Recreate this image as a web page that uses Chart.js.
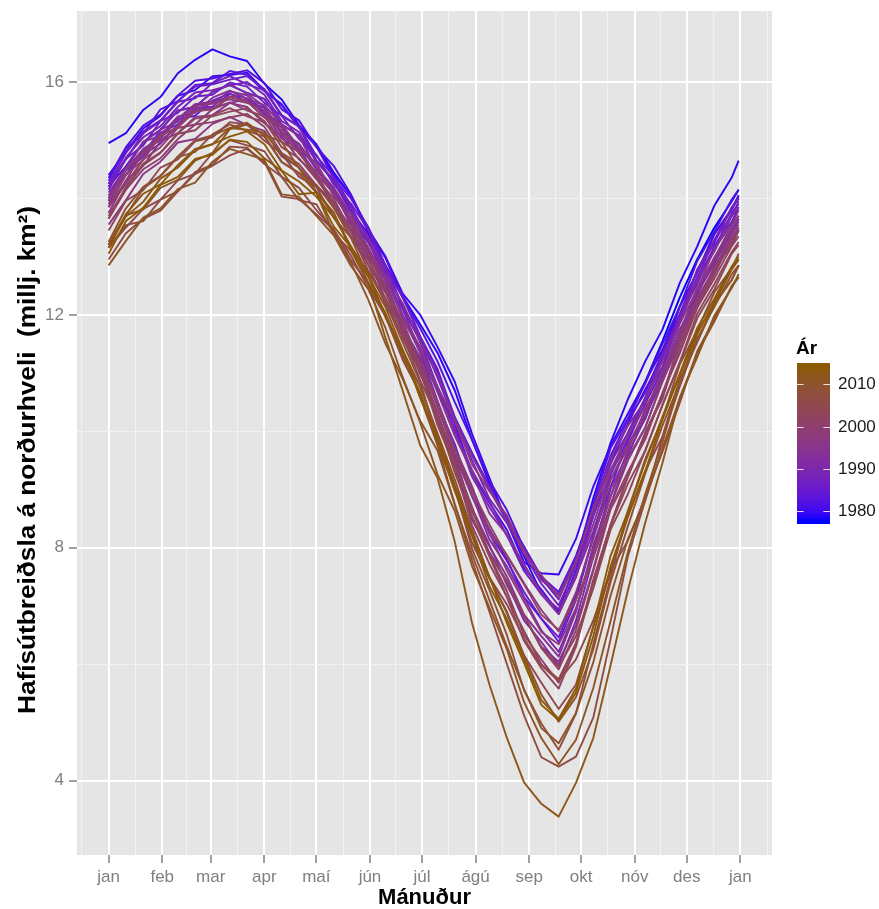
<!DOCTYPE html>
<html>
<head>
<meta charset="utf-8">
<script src="https://cdn.jsdelivr.net/npm/chart.js@4.4.1/dist/chart.umd.min.js"></script>
<style>
html, body { margin: 0; padding: 0; background: #ffffff; }
canvas { display: block; }
</style>
</head>
<body>
<canvas id="chart" width="879" height="909"></canvas>
<script>
// Day of year (0 = 1 January) of each sampled extent value
const sampleDays = [0, 10, 20, 30, 40, 50, 60, 70, 80, 90, 100, 110, 120, 130, 140, 150, 160, 170, 180,
  190, 200, 210, 220, 230, 240, 250, 260, 270, 280, 290, 300, 310, 320, 330, 340, 350, 360, 364];

// Month axis
const monthStartDays = [0, 31, 59, 90, 120, 151, 181, 212, 243, 273, 304, 334, 365];
const monthLabels = ['jan', 'feb', 'mar', 'apr', 'maí', 'jún', 'júl', 'ágú', 'sep', 'okt', 'nóv', 'des', 'jan'];
const xTitle = 'Mánuður';

// Extent axis
const yMajorTicks = [4, 8, 12, 16];
const yTitle = 'Hafísútbreiðsla á norðurhveli  (millj. km²)';

// Colour legend
const legendTitle = 'Ár';
const legendBreaks = [1980, 1990, 2000, 2010];
const yearLimits = [1978, 2014];

// Northern hemisphere sea ice extent, million km2, one array per year
const ext1978 = [null, null, null, null, null, null, null, null, null, null, null, null, null, null, null, null, null, null, null,
  null, null, null, null, null, null, null, null, null, null, null, 10.2, 10.85, 11.55, 12.3, 12.95, 13.5, 13.95, 14.15];
const ext1979 = [14.95, 15.12, 15.52, 15.74, 16.15, 16.38, 16.56, 16.44, 16.36, 15.97, 15.7, 15.26, 14.93, 14.45, 14.05, 13.42, 12.98, 12.31, 11.84,
  11.35, 10.7, 9.85, 9.1, 8.45, 7.85, 7.22, 6.93, 7.75, 8.85, 9.8, 10.55, 11.2, 11.75, 12.55, 13.17, 13.88, 14.36, 14.65];
const ext1980 = [14.4, 14.8, 15.2, 15.42, 15.76, 15.86, 16.1, 16.12, 16.16, 15.86, 15.6, 15.22, 14.9, 14.41, 14.05, 13.47, 13.0, 12.36, 12.0,
  11.45, 10.85, 9.95, 9.2, 8.45, 7.75, 7.56, 7.54, 8.15, 9.05, 9.75, 10.3, 10.85, 11.4, 12.14, 12.72, 13.39, 13.82, 14.05];
const ext1981 = [14.2, 14.55, 14.97, 15.18, 15.51, 15.57, 15.83, 15.95, 15.81, 15.71, 15.27, 15.08, 14.65, 14.32, 13.79, 13.39, 12.84, 12.12, 11.55,
  10.76, 10.13, 9.28, 8.77, 8.31, 7.65, 7.28, 6.88, 7.6, 8.64, 9.44, 10.13, 10.72, 11.26, 12.15, 12.73, 13.39, 13.8, 14.05];
const ext1982 = [14.35, 14.88, 15.25, 15.44, 15.77, 16.02, 16.06, 16.14, 16.2, 15.98, 15.53, 15.34, 14.88, 14.56, 14.07, 13.46, 12.98, 12.29, 11.77,
  11.2, 10.5, 9.85, 9.15, 8.65, 7.99, 7.48, 7.11, 7.83, 8.75, 9.71, 10.22, 10.82, 11.5, 12.14, 12.92, 13.43, 13.98, 14.15];
const ext1983 = [14.3, 14.86, 15.11, 15.53, 15.67, 15.95, 15.98, 16.19, 16.12, 15.84, 15.62, 15.22, 14.9, 14.35, 14.0, 13.51, 12.85, 12.34, 11.63,
  11.07, 10.24, 9.63, 9.05, 8.51, 8.02, 7.5, 7.24, 7.86, 8.68, 9.58, 10.2, 10.66, 11.36, 12.02, 12.74, 13.24, 13.85, 14.0];
const ext1984 = [14.05, 14.4, 14.82, 15.03, 15.36, 15.42, 15.68, 15.8, 15.66, 15.56, 15.12, 14.93, 14.5, 14.17, 13.64, 13.24, 12.69, 11.97, 11.35,
  10.46, 9.78, 8.88, 8.32, 7.81, 7.15, 6.78, 6.38, 7.1, 8.19, 9.04, 9.83, 10.47, 11.06, 11.95, 12.53, 13.19, 13.6, 13.85];
const ext1985 = [14.25, 14.78, 15.15, 15.34, 15.67, 15.92, 15.96, 16.04, 16.1, 15.88, 15.43, 15.24, 14.73, 14.38, 13.88, 13.26, 12.73, 11.99, 11.37,
  10.52, 9.72, 9.0, 8.24, 7.78, 7.24, 6.78, 6.46, 7.18, 8.2, 9.26, 9.87, 10.57, 11.3, 11.99, 12.77, 13.28, 13.83, 14.0];
const ext1986 = [14.15, 14.68, 14.91, 15.33, 15.47, 15.75, 15.78, 15.99, 15.92, 15.64, 15.42, 15.02, 14.75, 14.24, 13.91, 13.46, 12.8, 12.29, 11.63,
  11.02, 10.24, 9.58, 9.05, 8.46, 7.97, 7.45, 7.19, 7.81, 8.63, 9.53, 10.1, 10.51, 11.26, 11.92, 12.64, 13.14, 13.75, 13.9];
const ext1987 = [14.25, 14.67, 15.12, 15.33, 15.66, 15.72, 15.98, 16.1, 15.96, 15.86, 15.42, 15.23, 14.65, 14.29, 13.76, 13.34, 12.82, 12.12, 11.55,
  10.7, 10.05, 9.22, 8.7, 8.22, 7.6, 7.2, 6.86, 7.49, 8.54, 9.29, 9.98, 10.57, 11.11, 12.0, 12.63, 13.29, 13.7, 13.95];
const ext1988 = [14.2, 14.7, 15.05, 15.24, 15.57, 15.82, 15.86, 15.94, 16.0, 15.78, 15.33, 15.14, 14.63, 14.31, 13.85, 13.26, 12.8, 12.14, 11.62,
  10.92, 10.17, 9.5, 8.84, 8.43, 7.89, 7.38, 7.01, 7.68, 8.55, 9.46, 9.97, 10.57, 11.3, 11.94, 12.77, 13.28, 13.83, 14.0];
const ext1989 = [13.95, 14.48, 14.71, 15.13, 15.27, 15.55, 15.58, 15.79, 15.72, 15.44, 15.22, 14.82, 14.6, 14.07, 13.73, 13.26, 12.6, 12.09, 11.38,
  10.77, 9.99, 9.33, 8.8, 8.21, 7.72, 7.2, 6.94, 7.51, 8.28, 9.18, 9.75, 10.21, 11.01, 11.67, 12.44, 12.94, 13.55, 13.7];
const ext1990 = [14.1, 14.52, 14.97, 15.18, 15.51, 15.57, 15.83, 15.95, 15.81, 15.71, 15.27, 15.08, 14.5, 14.12, 13.54, 13.09, 12.49, 11.72, 11.05,
  10.16, 9.43, 8.48, 7.92, 7.41, 6.75, 6.38, 5.98, 6.75, 7.84, 8.74, 9.58, 10.27, 10.86, 11.75, 12.33, 12.99, 13.4, 13.65];
const ext1991 = [13.9, 14.4, 14.75, 14.94, 15.27, 15.52, 15.56, 15.64, 15.7, 15.48, 15.03, 14.84, 14.43, 14.09, 13.62, 13.01, 12.5, 11.79, 11.22,
  10.42, 9.62, 8.9, 8.14, 7.68, 7.14, 6.58, 6.21, 6.93, 7.95, 9.01, 9.62, 10.22, 10.95, 11.59, 12.37, 12.88, 13.43, 13.6];
const ext1992 = [14.0, 14.53, 14.76, 15.18, 15.32, 15.6, 15.63, 15.84, 15.77, 15.49, 15.27, 14.87, 14.6, 14.09, 13.76, 13.31, 12.67, 12.19, 11.53,
  10.97, 10.19, 9.58, 9.0, 8.46, 7.97, 7.45, 7.19, 7.76, 8.63, 9.53, 10.1, 10.51, 11.21, 11.87, 12.59, 13.09, 13.7, 13.85];
const ext1993 = [14.05, 14.5, 14.97, 15.08, 15.41, 15.47, 15.73, 15.85, 15.71, 15.6, 15.27, 15.08, 14.5, 14.14, 13.57, 13.14, 12.57, 11.82, 11.15,
  10.26, 9.58, 8.63, 8.02, 7.51, 6.85, 6.48, 6.13, 6.9, 8.04, 8.89, 9.68, 10.37, 10.96, 11.85, 12.43, 13.14, 13.55, 13.8];
const ext1994 = [14.0, 14.5, 14.85, 15.04, 15.37, 15.62, 15.66, 15.74, 15.8, 15.58, 15.13, 14.94, 14.53, 14.19, 13.72, 13.11, 12.63, 11.94, 11.37,
  10.67, 9.92, 9.3, 8.59, 8.23, 7.69, 7.23, 6.86, 7.53, 8.4, 9.31, 9.77, 10.32, 11.0, 11.64, 12.42, 12.93, 13.48, 13.65];
const ext1995 = [13.75, 14.31, 14.56, 14.98, 15.12, 15.4, 15.43, 15.64, 15.57, 15.29, 15.07, 14.67, 14.4, 13.84, 13.46, 12.96, 12.27, 11.74, 10.98,
  10.32, 9.44, 8.68, 8.05, 7.36, 6.82, 6.3, 6.04, 6.66, 7.63, 8.73, 9.5, 10.06, 10.86, 11.52, 12.24, 12.74, 13.35, 13.5];
const ext1996 = [13.55, 13.97, 14.42, 14.63, 14.96, 15.02, 15.28, 15.4, 15.26, 15.16, 14.72, 14.53, 14.2, 13.94, 13.47, 13.14, 12.64, 11.97, 11.45,
  10.76, 10.18, 9.43, 8.97, 8.56, 7.9, 7.53, 7.13, 7.75, 8.69, 9.34, 9.93, 10.42, 10.86, 11.65, 12.18, 12.84, 13.25, 13.5];
const ext1997 = [13.85, 14.3, 14.82, 15.0, 15.22, 15.58, 15.63, 15.7, 15.64, 15.52, 15.1, 14.8, 14.43, 14.09, 13.62, 13.01, 12.5, 11.79, 11.27,
  10.52, 9.72, 9.05, 8.29, 7.88, 7.39, 6.93, 6.56, 7.23, 8.15, 9.16, 9.72, 10.32, 11.05, 11.69, 12.47, 12.98, 13.53, 13.7];
const ext1998 = [13.95, 14.51, 14.76, 15.08, 15.22, 15.5, 15.53, 15.74, 15.67, 15.39, 15.27, 14.87, 14.6, 14.04, 13.66, 13.16, 12.45, 11.89, 11.13,
  10.47, 9.59, 8.88, 8.25, 7.61, 7.07, 6.55, 6.34, 6.96, 7.88, 8.88, 9.55, 10.06, 10.86, 11.57, 12.29, 12.79, 13.4, 13.55];
const ext1999 = [13.85, 14.25, 14.67, 14.88, 15.21, 15.27, 15.53, 15.65, 15.51, 15.41, 14.97, 14.8, 14.35, 14.0, 13.44, 13.04, 12.49, 11.77, 11.15,
  10.26, 9.53, 8.53, 7.87, 7.26, 6.5, 6.08, 5.68, 6.35, 7.44, 8.39, 9.23, 9.97, 10.61, 11.55, 12.13, 12.79, 13.2, 13.45];
const ext2000 = [13.65, 14.15, 14.5, 14.69, 15.02, 15.27, 15.31, 15.39, 15.45, 15.23, 14.78, 14.59, 14.23, 13.91, 13.45, 12.86, 12.38, 11.69, 11.12,
  10.32, 9.47, 8.7, 7.89, 7.43, 6.84, 6.28, 5.91, 6.58, 7.6, 8.66, 9.22, 9.92, 10.65, 11.34, 12.12, 12.63, 13.18, 13.35];
const ext2001 = [13.85, 14.41, 14.66, 15.08, 15.22, 15.5, 15.53, 15.74, 15.67, 15.39, 15.17, 14.77, 14.45, 13.89, 13.53, 13.06, 12.4, 11.89, 11.13,
  10.47, 9.64, 8.98, 8.4, 7.86, 7.37, 6.85, 6.59, 7.11, 7.83, 8.68, 9.3, 9.86, 10.66, 11.42, 12.14, 12.69, 13.3, 13.45];
const ext2002 = [13.7, 14.18, 14.57, 14.78, 15.11, 15.17, 15.43, 15.55, 15.41, 15.31, 14.97, 14.8, 14.35, 13.92, 13.34, 12.94, 12.39, 11.67, 11.05,
  10.11, 9.38, 8.38, 7.72, 7.16, 6.4, 5.93, 5.58, 6.3, 7.44, 8.39, 9.23, 9.97, 10.56, 11.5, 12.13, 12.79, 13.2, 13.45];
const ext2003 = [13.65, 14.2, 14.6, 14.79, 15.12, 15.37, 15.41, 15.49, 15.55, 15.33, 14.88, 14.69, 14.33, 13.94, 13.42, 12.76, 12.28, 11.59, 11.02,
  10.22, 9.42, 8.65, 7.89, 7.43, 6.84, 6.28, 5.96, 6.48, 7.3, 8.31, 8.92, 9.67, 10.45, 11.19, 12.02, 12.53, 13.08, 13.25];
const ext2004 = [13.45, 13.96, 14.14, 14.53, 14.67, 14.98, 15.05, 15.31, 15.27, 14.99, 14.77, 14.37, 14.2, 13.67, 13.33, 12.86, 12.17, 11.64, 10.88,
  10.22, 9.29, 8.53, 7.85, 7.16, 6.57, 6.0, 5.74, 6.36, 7.33, 8.38, 9.1, 9.66, 10.46, 11.17, 11.94, 12.44, 13.05, 13.2];
const ext2005 = [13.15, 13.5, 13.82, 13.98, 14.31, 14.42, 14.78, 15.0, 14.91, 14.81, 14.37, 14.18, 13.8, 13.47, 12.94, 12.54, 11.97, 11.22, 10.65,
  9.76, 9.03, 8.08, 7.47, 6.91, 6.15, 5.68, 5.23, 5.65, 6.64, 7.59, 8.53, 9.32, 9.91, 10.9, 11.53, 12.19, 12.6, 12.85];
const ext2006 = [12.95, 13.4, 13.65, 13.79, 14.12, 14.42, 14.56, 14.74, 14.85, 14.63, 14.03, 13.99, 13.73, 13.46, 13.02, 12.46, 11.98, 11.29, 10.77,
  9.92, 9.07, 8.3, 7.49, 7.03, 6.44, 5.98, 5.71, 6.08, 6.75, 7.61, 8.12, 8.87, 9.65, 10.49, 11.37, 11.93, 12.48, 12.65];
const ext2007 = [13.15, 13.54, 13.61, 13.98, 14.12, 14.45, 14.58, 14.89, 14.87, 14.59, 14.37, 13.97, 13.9, 13.4, 13.1, 12.66, 11.95, 11.39, 10.58,
  9.77, 8.74, 7.78, 6.9, 6.01, 5.12, 4.4, 4.24, 4.41, 5.08, 6.43, 7.85, 8.81, 9.91, 10.77, 11.59, 12.14, 12.7, 12.85];
const ext2008 = [13.2, 13.7, 14.17, 14.38, 14.71, 14.8, 15.1, 15.27, 15.16, 15.06, 14.62, 14.43, 14.1, 13.74, 13.17, 12.74, 12.22, 11.52, 10.85,
  9.86, 9.03, 7.98, 7.27, 6.51, 5.55, 4.98, 4.53, 5.15, 6.34, 7.49, 8.63, 9.52, 10.21, 11.15, 11.73, 12.39, 12.8, 13.05];
const ext2009 = [13.25, 13.83, 14.2, 14.39, 14.72, 15.0, 15.08, 15.21, 15.3, 15.08, 14.63, 14.44, 14.23, 13.84, 13.32, 12.66, 12.13, 11.39, 10.77,
  9.97, 9.17, 8.3, 7.49, 6.88, 6.14, 5.48, 5.01, 5.43, 6.25, 7.41, 8.37, 9.27, 10.1, 10.84, 11.67, 12.23, 12.78, 12.95];
const ext2010 = [13.15, 13.71, 13.81, 14.18, 14.32, 14.65, 14.78, 15.19, 15.27, 15.09, 14.97, 14.52, 14.1, 13.4, 12.9, 12.26, 11.5, 10.89, 10.18,
  9.67, 8.74, 7.88, 7.1, 6.31, 5.57, 4.9, 4.64, 5.16, 6.03, 7.18, 8.15, 8.81, 9.71, 10.57, 11.34, 11.89, 12.5, 12.65];
const ext2011 = [12.85, 13.27, 13.67, 13.83, 14.16, 14.27, 14.63, 14.85, 14.76, 14.66, 14.07, 14.03, 13.7, 13.37, 12.84, 12.44, 11.77, 10.92, 10.15,
  9.26, 8.63, 7.68, 6.97, 6.26, 5.35, 4.73, 4.28, 4.7, 5.59, 6.74, 7.93, 8.92, 9.81, 10.85, 11.53, 12.19, 12.6, 12.85];
const ext2012 = [13.2, 13.69, 13.94, 14.34, 14.53, 14.83, 14.93, 15.21, 15.18, 15.13, 14.76, 14.53, 14.12, 13.76, 13.11, 12.54, 11.6, 10.69, 9.76,
  9.2, 8.1, 6.7, 5.65, 4.74, 3.97, 3.6, 3.38, 3.96, 4.73, 5.98, 7.27, 8.43, 9.46, 10.58, 11.27, 11.99, 12.46, 12.7];
const ext2013 = [13.2, 13.73, 14.08, 14.24, 14.57, 14.85, 14.93, 15.06, 15.15, 14.93, 14.48, 14.29, 14.03, 13.68, 13.18, 12.56, 12.03, 11.29, 10.67,
  9.82, 8.97, 8.2, 7.34, 6.78, 6.09, 5.38, 5.06, 5.58, 6.65, 7.86, 8.62, 9.47, 10.25, 10.99, 11.77, 12.28, 12.83, 13.0];
const ext2014 = [13.05, 13.61, 13.84, 14.23, 14.37, 14.68, 14.75, 15.01, 14.97, 14.69, 14.47, 14.07, 14.1, 13.52, 13.16, 12.71, 11.98, 11.39, 10.58,
  9.92, 9.04, 8.23, 7.5, 6.71, 6.02, 5.3, 5.04, 5.51, 6.48, 7.68, 8.55, 9.31, 10.21, 10.97, 11.69, 12.19, 12.8, 12.95];

const years = [1978, 1979, 1980, 1981, 1982, 1983, 1984, 1985, 1986, 1987, 1988, 1989, 1990, 1991, 1992, 1993, 1994, 1995,
  1996, 1997, 1998, 1999, 2000, 2001, 2002, 2003, 2004, 2005, 2006, 2007, 2008, 2009, 2010, 2011, 2012, 2013, 2014];
const extentByYear = [ext1978, ext1979, ext1980, ext1981, ext1982, ext1983, ext1984, ext1985, ext1986, ext1987, ext1988, ext1989,
  ext1990, ext1991, ext1992, ext1993, ext1994, ext1995, ext1996, ext1997, ext1998, ext1999, ext2000, ext2001, ext2002, ext2003,
  ext2004, ext2005, ext2006, ext2007, ext2008, ext2009, ext2010, ext2011, ext2012, ext2013, ext2014];

// ---- colour ramp: blue -> orange4, interpolated in CIE Lab ----
const LOW_RGB = [0, 0, 255];
const HIGH_RGB = [139, 90, 0];
function toLinear(c) { c /= 255; return c <= 0.04045 ? c / 12.92 : Math.pow((c + 0.055) / 1.055, 2.4); }
function fromLinear(c) {
  const v = c <= 0.0031308 ? 12.92 * c : 1.055 * Math.pow(c, 1 / 2.4) - 0.055;
  return Math.round(Math.max(0, Math.min(1, v)) * 255);
}
function rgbToLab(rgb) {
  const R = toLinear(rgb[0]), G = toLinear(rgb[1]), B = toLinear(rgb[2]);
  const X = (0.4124564 * R + 0.3575761 * G + 0.1804375 * B) / 0.95047;
  const Y = (0.2126729 * R + 0.7151522 * G + 0.0721750 * B);
  const Z = (0.0193339 * R + 0.1191920 * G + 0.9503041 * B) / 1.08883;
  const f = t => t > 216 / 24389 ? Math.cbrt(t) : (24389 / 27 * t + 16) / 116;
  const fx = f(X), fy = f(Y), fz = f(Z);
  return [116 * fy - 16, 500 * (fx - fy), 200 * (fy - fz)];
}
function labToRgb(lab) {
  const fy = (lab[0] + 16) / 116, fx = fy + lab[1] / 500, fz = fy - lab[2] / 200;
  const inv = t => t * t * t > 216 / 24389 ? t * t * t : (116 * t - 16) / (24389 / 27);
  const X = inv(fx) * 0.95047, Y = inv(fy), Z = inv(fz) * 1.08883;
  return [
    fromLinear(3.2404542 * X - 1.5371385 * Y - 0.4985314 * Z),
    fromLinear(-0.9692660 * X + 1.8760108 * Y + 0.0415560 * Z),
    fromLinear(0.0556434 * X - 0.2040259 * Y + 1.0572252 * Z)
  ];
}
const LOW_LAB = rgbToLab(LOW_RGB), HIGH_LAB = rgbToLab(HIGH_RGB);
function yearColour(year) {
  let t = (year - yearLimits[0]) / (yearLimits[1] - yearLimits[0]);
  t = Math.max(0, Math.min(1, t));
  const lab = LOW_LAB.map((v, i) => v + (HIGH_LAB[i] - v) * t);
  const c = labToRgb(lab);
  return 'rgb(' + c[0] + ',' + c[1] + ',' + c[2] + ')';
}

// ---- axis limits with 5% expansion of the data range ----
const allValues = extentByYear.flat().filter(v => v !== null);
const yDataMin = Math.min(...allValues), yDataMax = Math.max(...allValues);
const yPad = (yDataMax - yDataMin) * 0.05;
const xDataMin = monthStartDays[0], xDataMax = monthStartDays[monthStartDays.length - 1];
const xPad = (xDataMax - xDataMin) * 0.05;

// minor grid positions halfway between major breaks
function withMinors(majors) {
  const out = [];
  const firstGap = majors[1] - majors[0];
  const lastGap = majors[majors.length - 1] - majors[majors.length - 2];
  out.push(majors[0] - firstGap / 2);
  majors.forEach((m, i) => {
    out.push(m);
    if (i < majors.length - 1) out.push((m + majors[i + 1]) / 2);
  });
  out.push(majors[majors.length - 1] + lastGap / 2);
  return out;
}
const xGridValues = withMinors(monthStartDays);
const yGridValues = withMinors(yMajorTicks);

const isMajorX = v => monthStartDays.indexOf(v) >= 0;
const isMajorY = v => yMajorTicks.indexOf(v) >= 0;

const FONT_FAMILY = '"Liberation Sans", Arial, sans-serif';

const datasets = years.map((year, k) => ({
  label: String(year),
  data: sampleDays.map((d, i) => ({ x: d, y: extentByYear[k][i] })).filter(p => p.y !== null),
  borderColor: yearColour(year),
  borderWidth: 1.9,
  pointRadius: 0,
  tension: 0,
  fill: false,
  borderJoinStyle: 'round',
  order: 3000 - year
}));

// grey panel behind the grid
const panelBackground = {
  id: 'panelBackground',
  beforeDraw(chart) {
    const { ctx, chartArea: a } = chart;
    ctx.save();
    ctx.fillStyle = '#ffffff';
    ctx.fillRect(0, 0, chart.width, chart.height);
    ctx.fillStyle = '#E5E5E5';
    ctx.fillRect(a.left, a.top, a.right - a.left, a.bottom - a.top);
    ctx.restore();
  }
};

// rotated extent-axis title, stretched along its baseline
const extentAxisTitle = {
  id: 'extentAxisTitle',
  afterDraw(chart) {
    const ctx = chart.ctx;
    ctx.save();
    ctx.translate(28.5, 460);
    ctx.rotate(-Math.PI / 2);
    ctx.font = 'bold 24px ' + FONT_FAMILY;
    const w = ctx.measureText(yTitle).width;
    ctx.scale(508 / w, 1);
    ctx.fillStyle = '#000000';
    ctx.textAlign = 'center';
    ctx.textBaseline = 'middle';
    ctx.fillText(yTitle, 0, 0);
    ctx.restore();
  }
};

// continuous colour bar for the year scale
const yearColourBar = {
  id: 'yearColourBar',
  afterDraw(chart) {
    const ctx = chart.ctx;
    const left = 797, width = 33, top = 363, bottom = 524;
    const len = bottom - top;
    const nbin = 20;
    const lo = yearLimits[0], hi = yearLimits[1];
    ctx.save();
    for (let y = top; y < bottom; y++) {
      const u = (bottom - (y + 0.5)) / len;
      const yr = lo + (u * nbin - 0.5) / (nbin - 1) * (hi - lo);
      ctx.fillStyle = yearColour(yr);
      ctx.fillRect(left, y, width, 1);
    }
    ctx.strokeStyle = 'rgba(255,255,255,0.85)';
    ctx.lineWidth = 1;
    ctx.font = '17px ' + FONT_FAMILY;
    ctx.fillStyle = '#1a1a1a';
    ctx.textAlign = 'left';
    ctx.textBaseline = 'middle';
    legendBreaks.forEach(b => {
      const u = (0.5 + (b - lo) / (hi - lo) * (nbin - 1)) / nbin;
      const y = Math.round(bottom - u * len) + 0.5;
      ctx.beginPath();
      ctx.moveTo(left, y); ctx.lineTo(left + width / 5, y);
      ctx.moveTo(left + width * 4 / 5, y); ctx.lineTo(left + width, y);
      ctx.stroke();
      ctx.fillText(String(b), 838, y);
    });
    ctx.font = 'bold 19px ' + FONT_FAMILY;
    ctx.fillStyle = '#000000';
    ctx.textBaseline = 'alphabetic';
    ctx.fillText(legendTitle, 796, 354);
    ctx.restore();
  }
};

Chart.defaults.font.family = FONT_FAMILY;

new Chart(document.getElementById('chart'), {
  type: 'line',
  data: { datasets },
  plugins: [panelBackground, extentAxisTitle, yearColourBar],
  options: {
    responsive: false,
    animation: false,
    devicePixelRatio: 1,
    layout: { padding: { left: 0, top: 11, right: 107, bottom: 0 } },
    plugins: { legend: { display: false }, tooltip: { enabled: false } },
    scales: {
      x: {
        type: 'linear',
        min: xDataMin - xPad,
        max: xDataMax + xPad,
        afterBuildTicks: s => { s.ticks = xGridValues.map(v => ({ value: v })); },
        afterFit: s => { s.height = 54; s.paddingLeft = 0; s.paddingRight = 0; },
        border: { display: false },
        grid: {
          color: c => (c.tick && isMajorX(c.tick.value)) ? '#FFFFFF' : '#F2F2F2',
          lineWidth: c => (c.tick && isMajorX(c.tick.value)) ? 2 : 1,
          tickColor: c => (c.tick && isMajorX(c.tick.value)) ? '#7F7F7F' : 'rgba(0,0,0,0)',
          tickLength: 8,
          tickWidth: 1.5
        },
        ticks: {
          autoSkip: false,
          maxRotation: 0,
          color: '#7F7F7F',
          font: { size: 17 },
          padding: 4,
          callback: v => { const i = monthStartDays.indexOf(v); return i >= 0 ? monthLabels[i] : ''; }
        },
        title: {
          display: true,
          text: xTitle,
          color: '#000000',
          font: { size: 22, weight: 'bold', lineHeight: 1 },
          padding: { top: 0, bottom: 0 }
        }
      },
      y: {
        type: 'linear',
        min: yDataMin - yPad,
        max: yDataMax + yPad,
        afterBuildTicks: s => { s.ticks = yGridValues.filter(v => v > s.min && v < s.max).map(v => ({ value: v })); },
        afterFit: s => { s.width = 77; s.paddingTop = 0; s.paddingBottom = 0; },
        border: { display: false },
        grid: {
          color: c => (c.tick && isMajorY(c.tick.value)) ? '#FFFFFF' : '#F2F2F2',
          lineWidth: c => (c.tick && isMajorY(c.tick.value)) ? 2 : 1,
          tickColor: c => (c.tick && isMajorY(c.tick.value)) ? '#7F7F7F' : 'rgba(0,0,0,0)',
          tickLength: 8,
          tickWidth: 1.5
        },
        ticks: {
          color: '#7F7F7F',
          font: { size: 17 },
          padding: 5,
          callback: v => isMajorY(v) ? String(v) : ''
        },
        title: { display: false }
      }
    }
  }
});
</script>
</body>
</html>
